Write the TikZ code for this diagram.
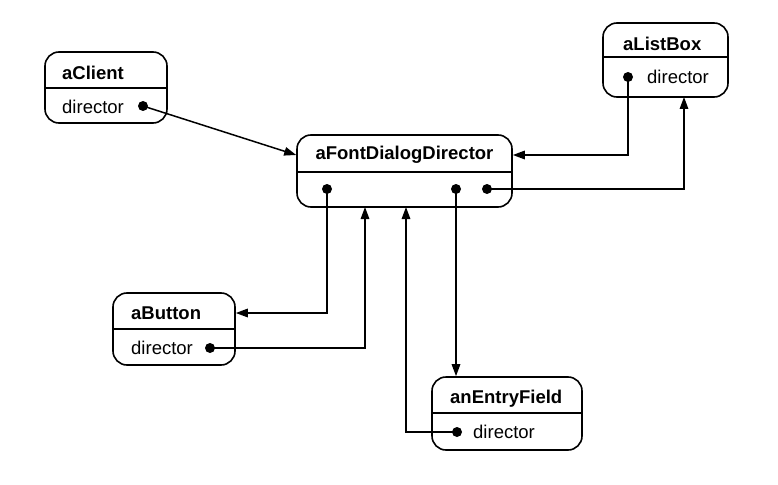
\documentclass[tikz,border=0pt]{standalone}
\usepackage{fontspec}
\setmainfont{Liberation Sans}
\usetikzlibrary{arrows.meta}
\tikzset{
  box/.style={draw, line width=1.6pt, rounded corners=14pt, inner sep=0pt},
  divider/.style={line width=1.3pt},
  ttl/.style={font=\bfseries\fontsize{18.5}{22}\selectfont, inner sep=0pt, anchor=west},
  attr/.style={font=\fontsize{18.5}{22}\selectfont, inner sep=0pt, anchor=west},
  dot/.style={circle, fill, inner sep=0pt, minimum size=10pt},
  arr/.style={line width=1.5pt, -{Triangle[length=12pt,width=8.5pt]}},
  ln/.style={line width=1.5pt}
}
\begin{document}
\begin{tikzpicture}[x=1pt,y=-1pt]
\useasboundingbox (0,0) rectangle (778,484);

% aClient
\node[box, minimum width=122pt, minimum height=71pt] (cl) at (106,87.5) {};
\draw[divider] (45,88) -- (167,88);
\node[ttl] (clt) at (62,73) {aClient};
\node[attr] (cla) at (62,107) {director};
\node[dot] (cld) at (143,106) {};

% aFontDialogDirector
\node[box, minimum width=215pt, minimum height=72pt] (fd) at (404.5,171) {};
\draw[divider] (297,172) -- (512,172);
\node[ttl, anchor=center] (fdt) at (404.5,155) {aFontDialogDirector};
\node[dot] (fd1) at (327,189) {};
\node[dot] (fd2) at (456,189) {};
\node[dot] (fd3) at (487,189) {};
\coordinate (fdin1) at (365,207);
\coordinate (fdin2) at (406,207);

% aListBox
\node[box, minimum width=125pt, minimum height=74pt] (lb) at (665.5,60) {};
\draw[divider] (603,57) -- (728,57);
\node[ttl] (lbt) at (623,44) {aListBox};
\node[attr] (lba) at (647,77) {director};
\node[dot] (lbd) at (628,77) {};
\coordinate (lbin) at (684,97);

% aButton
\node[box, minimum width=122pt, minimum height=72pt] (bt) at (174,329) {};
\draw[divider] (113,329) -- (235,329);
\node[ttl] (btt) at (131,313) {aButton};
\node[attr] (bta) at (131,348) {director};
\node[dot] (btd) at (210,348) {};

% anEntryField
\node[box, minimum width=150pt, minimum height=73pt] (ef) at (507,413.5) {};
\draw[divider] (432,413) -- (582,413);
\node[ttl] (eft) at (450,399) {anEntryField};
\node[attr] (efa) at (473,432) {director};
\node[dot] (efd) at (457,432) {};

% connectors
\draw[arr] (cld.center) -- (fd.west |- fdt);
\draw[arr] (lbd.center) |- (fd.east |- fdt);
\draw[arr] (fd3.center) -| (lbin);
\draw[arr] (fd1.center) |- (bt.east |- btt);
\draw[arr] (btd.center) -| (fdin1);
\draw[arr] (fd2.center) -- (fd2 |- ef.north);
\draw[arr] (efd.center) -| (fdin2);
\end{tikzpicture}
\end{document}
